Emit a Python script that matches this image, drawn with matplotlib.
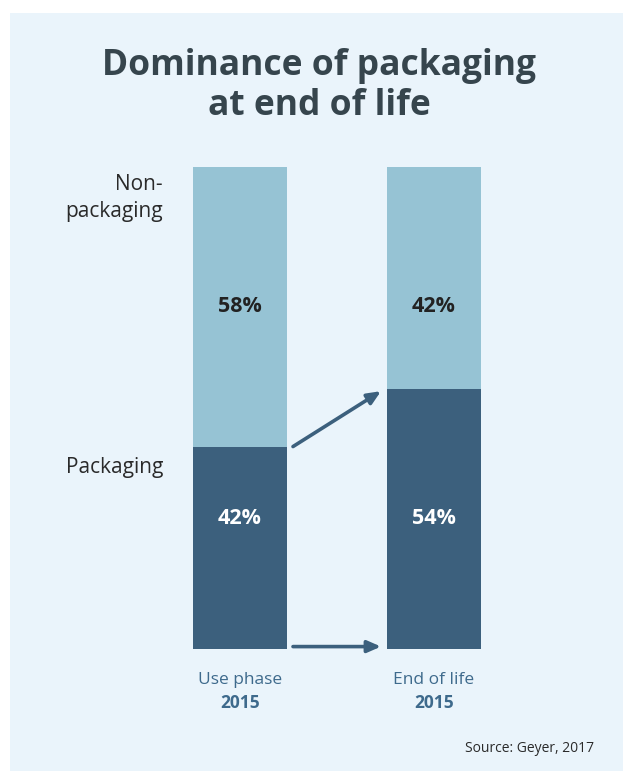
import matplotlib
matplotlib.use("Agg")
import matplotlib.pyplot as plt
from matplotlib.patches import Rectangle

categories = ["Use phase", "End of life"]
years = ["2015", "2015"]
packaging = [42, 54]
non_packaging = [58, 46]
packaging_labels = ["42%", "54%"]
non_packaging_labels = ["58%", "42%"]

LIGHT = "#96C3D4"
DARK = "#3C607D"
BG = "#EAF4FB"
TITLE_C = "#36454D"
CAT_C = "#3E6A8C"
FONT = "Open Sans"

W, H = 623, 771
fig = plt.figure(figsize=(W / 100, H / 100), dpi=100)
fig.patch.set_facecolor("white")
fig.add_artist(Rectangle((10 / W, -0.05), 1.1, (H - 13) / H + 0.05, transform=fig.transFigure,
                         facecolor=BG, edgecolor="none", zorder=0))

# axes: y 0..100 maps to pixel 649..167; x maps so that 0->240 px, 1->434 px
bottom_px, top_px = 649, 167
ax = fig.add_axes([0, (H - bottom_px) / H, 1, (bottom_px - top_px) / H])
ax.set_facecolor("none")
ppu = 194.0
ax.set_xlim(-240 / ppu, (W - 240) / ppu)
ax.set_ylim(0, 100)
ax.axis("off")

xs = list(range(len(categories)))
bw = 94 / ppu
ax.bar(xs, packaging, width=bw, color=DARK, zorder=2)
ax.bar(xs, non_packaging, bottom=packaging, width=bw, color=LIGHT, zorder=2)

for x, lab in zip(xs, non_packaging_labels):
    ax.text(x, 71, lab, ha="center", va="center", fontsize=15.5, fontweight="bold",
            color="#222222", family=FONT)
for x, lab in zip(xs, packaging_labels):
    ax.text(x, 27, lab, ha="center", va="center", fontsize=15.5, fontweight="bold",
            color="white", family=FONT)

# arrows
x0 = xs[0] + bw / 2 + 6 / ppu
x1 = xs[1] - bw / 2 - 6 / ppu
ax.annotate("", xy=(x1, packaging[1] - 0.5), xytext=(x0, packaging[0]),
            arrowprops=dict(arrowstyle="-|>,head_length=0.8,head_width=0.35",
                            color=DARK, lw=2.6, shrinkA=0, shrinkB=0))
ax.annotate("", xy=(x1, 0.5), xytext=(x0, 0.5),
            arrowprops=dict(arrowstyle="-|>,head_length=0.8,head_width=0.35",
                            color=DARK, lw=2.6, shrinkA=0, shrinkB=0))

# side labels
lx = (163 - 240) / ppu
ax.text(lx, (bottom_px - 198) / (bottom_px - top_px) * 100, "Non-\npackaging",
        ha="right", va="center", fontsize=15, color="#2a2a2a", family=FONT,
        linespacing=1.35)
ax.text(lx, (bottom_px - 467) / (bottom_px - top_px) * 100, "Packaging",
        ha="right", va="center", fontsize=15, color="#2a2a2a", family=FONT)

# category labels
for x, c, yr in zip(xs, categories, years):
    fig.text((240 + x * ppu) / W, 1 - 680 / H, c, ha="center", va="center",
             fontsize=12.5, color=CAT_C, family=FONT)
    fig.text((240 + x * ppu) / W, 1 - 703 / H, yr, ha="center", va="center",
             fontsize=12.5, fontweight="bold", color=CAT_C, family=FONT)

fig.text(0.5 + 8 / W, 1 - 86 / H, "Dominance of packaging\nat end of life",
         ha="center", va="center", fontsize=25.5, fontweight="bold",
         color=TITLE_C, family=FONT, linespacing=1.12)

fig.text(594 / W, 1 - 748 / H, "Source: Geyer, 2017", ha="right", va="center",
         fontsize=10, color="#2a2a2a", family=FONT)

fig.savefig("out.png", dpi=100, facecolor=fig.get_facecolor())
